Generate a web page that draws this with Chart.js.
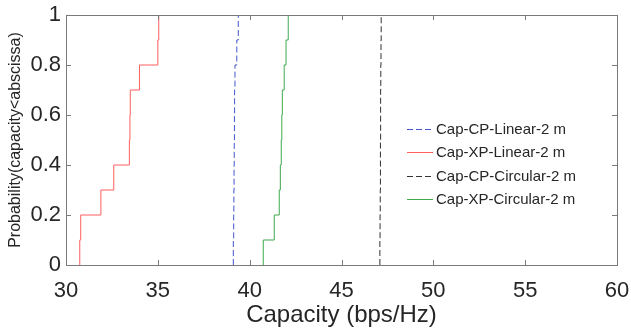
<!DOCTYPE html>
<html>
<head>
<meta charset="utf-8">
<title>Capacity CDF</title>
<script src="https://cdn.jsdelivr.net/npm/chart.js@4.4.0/dist/chart.umd.min.js"></script>
<style>
    html, body { margin: 0; padding: 0; background: #fff; }
    canvas { display: block; }
</style>
</head>
<body>
<canvas id="graficoCapacidade" width="631" height="332"></canvas>
<script>
// empirical CDF levels (one step per sample)
var niveisCdf = [0, 0.1, 0.2, 0.3, 0.4, 0.5, 0.6, 0.7, 0.8, 0.9, 1.0];

// capacity samples (bps/Hz), sorted
var capCpLinear = [39.11, 39.13, 39.14, 39.15, 39.16, 39.17, 39.18, 39.20, 39.30, 39.38];
var capXpLinear = [30.75, 30.80, 31.90, 32.60, 33.45, 33.48, 33.50, 34.00, 35.00, 35.05];
var capCpCircular = [47.09, 47.10, 47.11, 47.12, 47.12, 47.13, 47.13, 47.14, 47.15, 47.16];
var capXpCircular = [40.74, 41.34, 41.61, 41.67, 41.72, 41.75, 41.78, 41.88, 41.98, 42.10];

var nomesSeries = ['Cap-CP-Linear-2 m', 'Cap-XP-Linear-2 m', 'Cap-CP-Circular-2 m', 'Cap-XP-Circular-2 m'];

var xTicks = [30, 35, 40, 45, 50, 55, 60];
var yTicks = [0, 0.2, 0.4, 0.6, 0.8, 1];

var FONTE = "'Liberation Sans', Arial, sans-serif";

function pontosCdf(amostras) {
    var pontos = [{ x: amostras[0], y: niveisCdf[0] }];
    amostras.forEach(function (v, i) {
        pontos.push({ x: v, y: niveisCdf[i + 1] });
    });
    return pontos;
}

function serie(label, amostras, cor, tracejado) {
    return {
        label: label,
        data: pontosCdf(amostras),
        showLine: true,
        stepped: true,
        borderColor: cor,
        backgroundColor: cor,
        borderWidth: 1,
        borderDash: tracejado ? [6, 3] : [],
        pointRadius: 0,
        fill: false,
    };
}

// box around the plot with inward ticks on all four sides (MATLAB style)
var caixaEixos = {
    id: 'caixaEixos',
    afterDatasetsDraw: function (chart) {
        var ctx = chart.ctx, a = chart.chartArea;
        var sx = chart.scales.x, sy = chart.scales.y;
        var len = 5;
        ctx.save();
        ctx.strokeStyle = '#7a7a7a';
        ctx.lineWidth = 1;
        ctx.setLineDash([]);
        ctx.strokeRect(Math.round(a.left) + 0.5, Math.round(a.top) + 0.5,
            Math.round(a.right - a.left), Math.round(a.bottom - a.top));
        ctx.beginPath();
        xTicks.forEach(function (t) {
            var px = Math.round(sx.getPixelForValue(t)) + 0.5;
            ctx.moveTo(px, a.bottom); ctx.lineTo(px, a.bottom - len);
            ctx.moveTo(px, a.top); ctx.lineTo(px, a.top + len);
        });
        yTicks.forEach(function (t) {
            var py = Math.round(sy.getPixelForValue(t)) + 0.5;
            ctx.moveTo(a.left, py); ctx.lineTo(a.left + len, py);
            ctx.moveTo(a.right, py); ctx.lineTo(a.right - len, py);
        });
        ctx.stroke();
        ctx.restore();
    }
};

// legend inside the axes, no frame
var legendaInterna = {
    id: 'legendaInterna',
    afterDraw: function (chart) {
        var ctx = chart.ctx;
        var x0 = 407, x1 = 433, y0 = 129, passo = 23.4;
        ctx.save();
        ctx.font = '15px ' + FONTE;
        ctx.textBaseline = 'middle';
        ctx.textAlign = 'left';
        chart.data.datasets.forEach(function (ds, i) {
            var y = Math.round(y0 + i * passo) + 0.5;
            ctx.strokeStyle = ds.borderColor;
            ctx.lineWidth = 1;
            ctx.setLineDash(ds.borderDash);
            ctx.beginPath();
            ctx.moveTo(x0, y); ctx.lineTo(x1, y);
            ctx.stroke();
            ctx.setLineDash([]);
            ctx.fillStyle = '#262626';
            ctx.fillText(ds.label, x1 + 3, y);
        });
        ctx.restore();
    }
};

var ctx = document.getElementById('graficoCapacidade').getContext('2d');
var grafico = new Chart(ctx, {
    type: 'scatter',
    data: {
        datasets: [
            serie(nomesSeries[0], capCpLinear, '#4455cc', true),
            serie(nomesSeries[1], capXpLinear, '#ff5f5f', false),
            serie(nomesSeries[2], capCpCircular, '#333333', true),
            serie(nomesSeries[3], capXpCircular, '#3fa84e', false),
        ],
    },
    options: {
        responsive: false,
        animation: false,
        layout: { padding: { top: 15, right: 14, left: 0, bottom: 0 } },
        plugins: {
            legend: { display: false },
            tooltip: { enabled: false },
        },
        scales: {
            x: {
                type: 'linear',
                min: 30,
                max: 60,
                afterBuildTicks: function (s) {
                    s.ticks = xTicks.map(function (v) { return { value: v }; });
                },
                afterFit: function (s) {
                    s.height = 67;
                    s.paddingLeft = 0;
                    s.paddingRight = 0;
                },
                grid: { display: false, drawTicks: false },
                border: { display: false },
                ticks: {
                    padding: 13,
                    color: '#262626',
                    font: { family: FONTE, size: 22 },
                    maxRotation: 0,
                },
                title: {
                    display: true,
                    text: 'Capacity (bps/Hz)',
                    color: '#262626',
                    font: { family: FONTE, size: 24 },
                    padding: { top: 0, bottom: 2 },
                },
            },
            y: {
                type: 'linear',
                min: 0,
                max: 1,
                afterBuildTicks: function (s) {
                    s.ticks = yTicks.map(function (v) { return { value: v }; });
                },
                afterFit: function (s) {
                    s.width = 66;
                    s.paddingTop = 0;
                    s.paddingBottom = 0;
                },
                grid: { display: false, drawTicks: false },
                border: { display: false },
                ticks: {
                    padding: 5,
                    color: '#262626',
                    font: { family: FONTE, size: 22 },
                    callback: function (v) { return String(v); },
                },
                title: {
                    display: true,
                    text: 'Probability(capacity<abscissa)',
                    color: '#262626',
                    font: { family: FONTE, size: 16 },
                    padding: { top: 6, bottom: 0 },
                },
            },
        },
    },
    plugins: [caixaEixos, legendaInterna],
});
</script>
</body>
</html>
